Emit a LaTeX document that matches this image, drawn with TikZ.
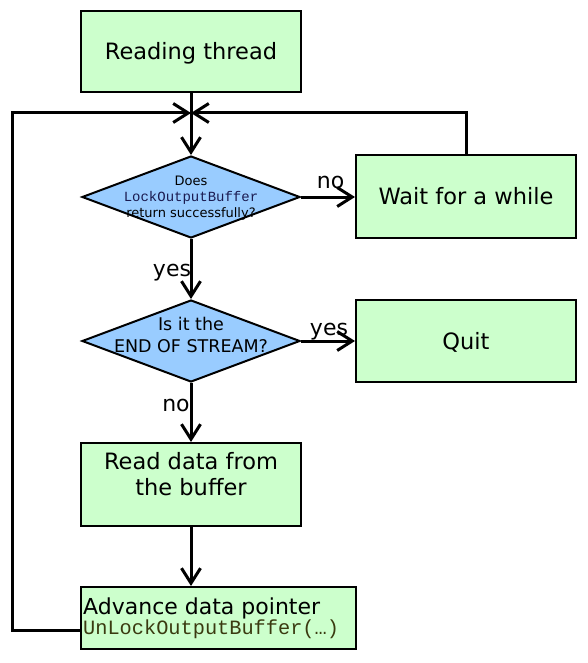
\documentclass[tikz,border=0pt]{standalone}
\usepackage{fontspec}
\setmainfont{DejaVu Sans}
\newfontfamily\monof{Liberation Mono}
\usetikzlibrary{arrows.meta,shapes.geometric}
\definecolor{boxgreen}{HTML}{CCFFCC}
\definecolor{diablue}{HTML}{99CCFF}
\definecolor{monotext}{HTML}{3A3A10}
\definecolor{monoblue}{HTML}{1A1A50}
\begin{document}
\begin{tikzpicture}[x=1pt,y=-1pt,
  box/.style={draw=black, line width=2pt, fill=boxgreen, inner sep=0pt, font=\fontsize{22.5}{27}\selectfont, text height=16pt, text depth=0pt},
  dia/.style={draw=black, line width=2pt, fill=diablue, shape=diamond, inner sep=0pt, minimum width=218pt, minimum height=82pt},
  conn/.style={line width=3pt, -{Straight Barb[length=15pt,width=19pt,line width=3pt]}},
  lbl/.style={font=\fontsize{22}{26}\selectfont, inner sep=0pt, anchor=base},
  txt/.style={inner sep=0pt, align=center, anchor=base}
]
\useasboundingbox (0,0) rectangle (587,663);
\fill[white] (0,0) rectangle (587,663);

\node[box, minimum width=220pt, minimum height=81pt] (read) at (191,51.5) {Reading thread};
\node[dia] (d1) at (191,197) {};
\node[txt, font=\fontsize{13}{16}\selectfont] (t1) at (191,217) {Does\\{\monof\fontsize{14}{16}\selectfont\color{monoblue}LockOutputBuffer}\\return successfully?};
\node[box, minimum width=220pt, minimum height=83pt] (wait) at (466,196.5) {Wait for a while};
\node[dia] (d2) at (191,341) {};
\node[txt, font=\fontsize{17.5}{22.5}\selectfont] (t2) at (191,352.5) {Is it the\\END OF STREAM?};
\node[box, minimum width=220pt, minimum height=82pt] (quit) at (466,341) {Quit};
\node[box, minimum width=220pt, minimum height=83pt] (rd) at (191,484.5) {};
\node[txt, font=\fontsize{22.5}{26}\selectfont] (t3) at (191,495) {Read data from\\the buffer};
\node[box, minimum width=275pt, minimum height=62pt] (adv) at (218.5,618) {};
\node[txt, anchor=base west, align=left, font=\fontsize{22}{20}\selectfont] (t4) at (83,634) {Advance data pointer\\{\monof\fontsize{20.3}{20}\selectfont\color{monotext}UnLockOutputBuffer(\ldots)}};

\coordinate (j) at (191,113);
\coordinate (c1) at (12,630);
\coordinate (c2) at (12,113);

\draw[conn] (read.south) -- (d1.north);
\draw[conn] (adv.west |- c1) -- (c1) -- (c2) -- (j);
\draw[conn] (wait.north) -- (wait.north |- j) -- (j);
\draw[conn] (d1.east) -- (wait.west |- d1.east);
\draw[conn] (d1.south) -- (d2.north);
\draw[conn] (d2.east) -- (quit.west |- d2.east);
\draw[conn] (d2.south) -- (rd.north);
\draw[conn] (rd.south) -- (adv.north -| rd.south);

\node[lbl] (l1) at (330.5,189) {no};
\node[lbl] (l2) at (172,276) {yes};
\node[lbl] (l3) at (329,335) {yes};
\node[lbl] (l4) at (176,411) {no};
\end{tikzpicture}
\end{document}
